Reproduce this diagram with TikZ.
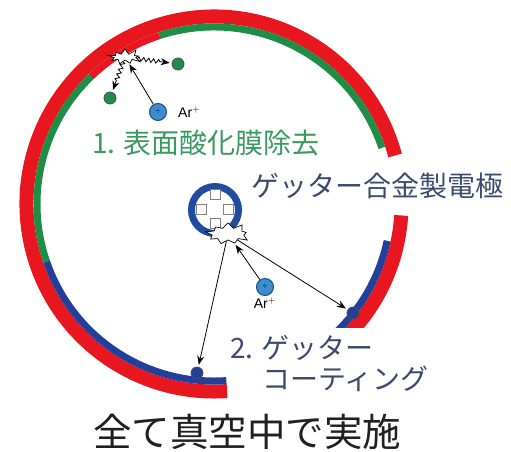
\documentclass[tikz,border=0pt]{standalone}
\usepackage{fontspec}
\setmainfont{Liberation Sans}
\newfontfamily\jpfont{Noto Sans CJK JP}
\usetikzlibrary{arrows.meta,positioning,shapes.symbols,decorations.pathmorphing}
\definecolor{ringred}{HTML}{E8161E}
\definecolor{ringgreen}{HTML}{1E8E46}
\definecolor{ringblue}{HTML}{22409A}
\definecolor{electrode}{HTML}{1F4C9E}
\definecolor{ionblue}{HTML}{3D8CD0}
\definecolor{ionedge}{HTML}{1C4A86}
\definecolor{textgreen}{HTML}{3A9A62}
\definecolor{textnavy}{HTML}{3C4A6E}
\definecolor{textblack}{HTML}{202020}
\tikzset{
  band/.style={line width=14pt,draw=ringred},
  coat/.style={line width=7pt},
  ion/.style={circle,draw=ionedge,fill=ionblue,line width=1pt,minimum size=17pt,
    inner sep=0pt,font=\fontsize{10}{10}\selectfont,text=ionedge},
  particle/.style={circle,draw=black!70,line width=0.8pt,minimum size=12pt,inner sep=0pt},
  chip/.style={draw=gray,fill=white,line width=0.6pt,minimum size=10pt,inner sep=0pt},
  burst/.style={starburst,draw=black,fill=white,line width=0.7pt,starburst points=9,
    starburst point height=7pt,inner sep=0pt},
  hit/.style={-{Stealth[length=9pt,width=7pt]},line width=0.8pt,shorten >=2pt},
  kick/.style={hit,decorate,decoration={zigzag,amplitude=2pt,segment length=5pt,post length=12pt}},
  arlabel/.style={font=\fontsize{14}{14}\selectfont,inner sep=0pt},
  jptext/.style={font=\jpfont\fontsize{28}{32}\selectfont,inner sep=0pt}
}

\begin{document}
\begin{tikzpicture}[x=1pt,y=1pt]
  \useasboundingbox (-214,-247) rectangle (297,204);

  % chamber wall: red outer band, coated inner band
  \draw[band] (15:187.5) arc[start angle=15,end angle=274,radius=187.5];
  \draw[coat,draw=ringgreen] (18.5:177) arc[start angle=18.5,end angle=108,radius=177];
  \draw[coat,draw=ringred] (108:177) arc[start angle=108,end angle=134,radius=177];
  \draw[coat,draw=ringgreen] (134:177) arc[start angle=134,end angle=199,radius=177];
  \draw[coat,draw=ringblue] (199:177) arc[start angle=199,end angle=274,radius=177];
  \begin{scope}
    \clip (-250,-123) rectangle (250,250);
    \draw[band] (-3.5:187.5) arc[start angle=-3.5,end angle=-50,radius=187.5];
    \draw[coat,draw=ringblue] (-12:177) arc[start angle=-12,end angle=-50,radius=177];
  \end{scope}

  % getter electrode
  \node[circle,draw=electrode,fill=white,line width=7pt,minimum size=47pt,inner sep=0pt] (rod) at (1,-6) {};
  \node[chip] (chipN) at (1,10) {};
  \node[chip] (chipW) at (-13,-5) {};
  \node[chip] (chipE) at (14,-5) {};
  \node[chip] (chipS) at (1,-19) {};

  % step 1: sputtering the oxide off the wall
  \node[burst,minimum width=36pt,minimum height=20pt] (hitA) at (-89,147) {};
  \node[ion] (ionA) at (-56,92) {+};
  \node[arlabel,right=11pt of ionA] (arA) {Ar$^{+}$};
  \node[particle,fill=ringgreen] (dotA) at (-104,106) {};
  \node[particle,fill=ringgreen] (dotB) at (-36,140) {};
  \draw[hit] (ionA) -- (hitA);
  \draw[kick] (hitA) -- (dotA);
  \draw[kick] (hitA) -- (dotB);

  % step 2: getter material sputtered onto the wall
  \node[burst,minimum width=46pt,minimum height=26pt] (hitB) at (14,-30) {};
  \node[ion] (ionB) at (51,-83) {+};
  \node[arlabel,below=1pt of ionB] (arB) {Ar$^{+}$};
  \node[particle,fill=ringblue] (dotC) at (139,-109) {};
  \node[particle,fill=ringblue] (dotD) at (-17,-169) {};
  \draw[hit] (ionB) -- (hitB);
  \draw[hit] (hitB) -- (dotC);
  \draw[hit] (hitB) -- (dotD);

  \node[jptext,text=textgreen] (stepone) at (-8,61.5) {1. 表面酸化膜除去};
  \node[jptext,text=textnavy,anchor=west] (getter) at (37,18) {ゲッター合金製電極};
  \node[jptext,text=textnavy,anchor=west] (steptwo) at (16,-144) {2. ゲッター};
  \node[jptext,text=textnavy,anchor=west] (coating) at (48,-175) {コーティング};
  \node[jptext,font=\jpfont\fontsize{38.5}{40}\selectfont,text=textblack] (vacuum) at (33.5,-228) {全て真空中で実施};
\end{tikzpicture}
\end{document}
